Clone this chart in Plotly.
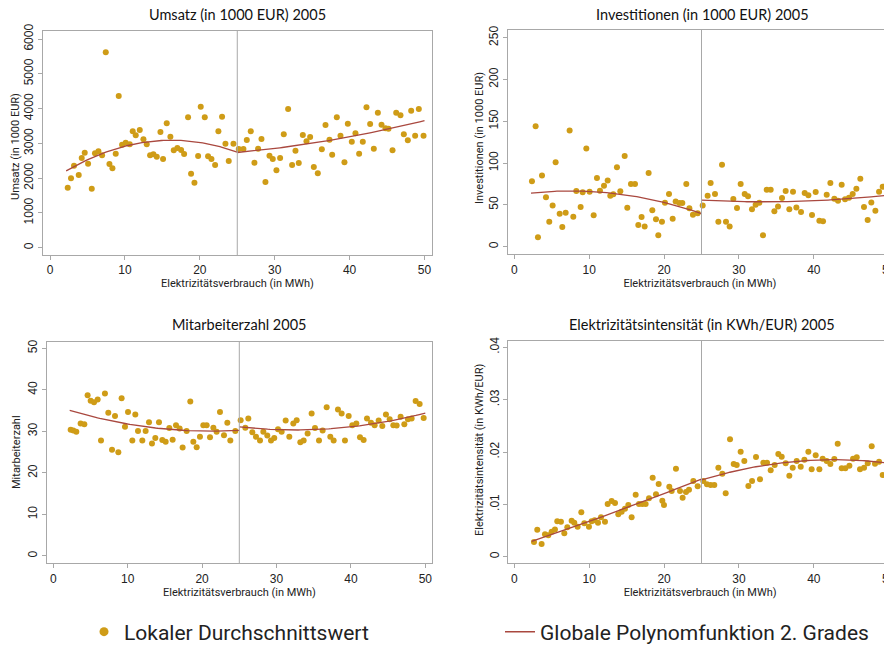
import numpy as np
import plotly.graph_objects as go

# the page adds an 8px body margin; the figure is sized so that it fills the 892x650 window
PAGE_OFF = 8
W, H = 892 - PAGE_OFF, 650 - PAGE_OFF
CUTOFF = 25

# ---------------- data ----------------
umsatz_x = [2.36,2.8,3.2,3.83,4.23,4.63,5.08,5.57,6.0,6.46,6.95,7.44,7.93,8.33,8.77,9.17,9.62,10.1,10.64,11.04,11.44,11.98,12.47,12.91,13.36,13.8,14.25,14.74,15.09,15.58,16.07,16.52,17.0,17.5,17.9,18.43,18.83,19.28,19.77,20.12,20.66,21.1,21.55,22.04,22.48,22.97,23.42,23.86,24.49,
            25.2,25.82,26.27,26.8,27.29,27.78,28.23,28.76,29.3,29.74,30.23,30.72,31.21,31.79,32.32,32.77,33.21,33.75,34.24,34.73,35.22,35.75,36.29,36.78,37.31,37.67,38.29,38.78,39.31,39.76,40.29,40.78,41.27,41.76,42.25,42.74,43.23,43.77,44.26,44.79,45.19,45.73,46.22,46.79,47.24,47.77,48.22,48.75,49.24,49.87]
umsatz_y = [1725,1994,2358,2090,2578,2732,2415,1697,2712,2770,2655,5617,2406,2281,2703,4361,2962,3019,2971,3345,3230,3383,3115,2971,2655,2684,2617,3326,2550,3575,3192,2799,2866,2808,2693,3748,2128,1869,2636,4054,3748,2626,2550,2377,3345,3767,2990,2492,2990,
            2837,2837,3096,3345,2444,2847,3125,1888,2645,2550,2224,2578,3259,3987,2377,2789,2435,3240,3058,3182,2320,2137,2827,3527,3106,2674,3748,3221,2454,3566,3048,3288,2703,3048,4035,3556,2847,3882,3537,3431,3422,2799,3882,3805,3259,3086,3939,3221,3987,3221]
umsatz_fit_left_x = [2.15, 6, 10, 16, 20, 25]
umsatz_fit_left_y = [2230, 2580, 2935, 3105, 3020, 2745]
umsatz_fit_right_x = [25, 30.7, 37.4, 50]
umsatz_fit_right_y = [2743, 2858, 3097, 3652]

invest_x = [2.36,2.85,3.16,3.7,4.23,4.67,5.12,5.52,6.06,6.41,6.86,7.39,7.88,8.28,8.86,9.13,9.62,10.06,10.6,11.04,11.44,11.98,12.47,12.82,13.22,13.71,14.16,14.74,15.09,15.58,16.12,16.56,17.0,17.41,17.94,18.43,18.92,19.23,19.72,20.12,20.66,21.15,21.55,22.04,22.44,22.97,23.38,23.86,24.49,
            25.16,25.82,26.22,26.8,27.25,27.74,28.27,28.76,29.25,29.74,30.23,30.77,31.21,31.74,32.23,32.72,33.21,33.71,34.24,34.73,35.22,35.75,36.24,36.73,37.22,37.67,38.29,38.78,39.27,39.76,40.25,40.74,41.23,41.72,42.21,42.74,43.23,43.72,44.17,44.7,45.19,45.68,46.21,46.7,47.19,47.68,48.22,48.71,49.2,49.78]
invest_y = [78.2,144,11.2,85.3,59,29.9,49.4,100.9,39.5,23.5,40.7,139,35.9,66.6,47.4,65,117.6,65.8,37.5,82.1,67,73,79.3,61,62.6,94.9,66.2,108.5,46.7,75,75,25.9,35.5,24.3,88.1,43.5,32.7,13.6,29.9,52.6,63,33.5,54.2,52.2,52.2,75,45.9,38.3,39.9,
            49.4,61,76.2,63,29.9,98.1,29.9,24.3,57,46.3,75,63,60.2,44.7,50.2,52.6,13.6,68.2,68.2,42.3,48.2,58.2,66.6,44.7,65.8,47,41.5,64.2,61.4,37.9,65.4,31.1,30.3,62.2,76.2,57.4,55,74.2,56.6,58.6,63,69.4,81.3,47.4,31.9,53,43.1,65.8,71.8,61]
invest_fit_left_x = [2.23, 8.3, 13.45, 20.1, 24.8]
invest_fit_left_y = [63.9, 67, 63.9, 51.9, 40.7]
invest_fit_right_x = [25.03, 32.4, 41.3, 50.2]
invest_fit_right_y = [55.9, 53.1, 55.9, 61.8]

mitarb_x = [2.33,2.69,3.09,3.67,4.17,4.61,5.02,5.47,5.96,6.41,6.94,7.39,7.89,8.29,8.74,9.18,9.63,10.04,10.62,11.02,11.38,11.96,12.41,12.86,13.26,13.71,14.2,14.65,15.1,15.59,16.04,16.49,16.98,17.38,17.92,18.41,18.82,19.27,19.71,20.16,20.61,21.06,21.51,21.95,22.4,22.94,23.39,23.79,24.46,
            25.18,25.81,26.21,26.75,27.24,27.78,28.23,28.76,29.26,29.7,30.2,30.69,31.23,31.72,32.26,32.71,33.2,33.65,34.18,34.72,35.17,35.71,36.2,36.74,37.23,37.68,38.26,38.75,39.2,39.7,40.19,40.73,41.22,41.71,42.16,42.7,43.19,43.73,44.22,44.71,45.21,45.7,46.15,46.68,47.18,47.67,48.16,48.7,49.24,49.78]
mitarb_y = [30.4,30.2,29.9,31.9,31.7,38.7,37.4,37,37.7,27.8,39.1,34.5,25.6,33.7,25,38,31.1,34.7,27.8,34.1,30.1,27.8,30.1,32.2,27.1,28.4,32.2,27.9,27.5,30.8,28,31.5,30.7,26.1,30.1,37.2,27.5,26.2,28.7,31.5,31.5,28.6,30.9,29.9,34.7,29.1,32.1,27.8,30.1,
            32.7,30.9,33.1,29.8,28.7,27.8,29.9,29,27.8,28.4,30.5,29.9,32.6,28.7,31.9,32.7,27.4,27.8,29.5,34.3,30.8,27.8,30.2,35.8,28.7,27.8,35.3,34.3,27.8,33.7,31.5,31.9,28.6,27.9,33.1,32.1,31.5,32.6,31.3,34.1,32.9,31.5,31.4,33.5,31.7,32.9,33.1,37.3,36.6,33.2]
mitarb_fit_left_x = [2.2, 9.8, 17.9, 24.9]
mitarb_fit_left_y = [35.0, 31.95, 30.1, 30.3]
mitarb_fit_right_x = [25.1, 32.7, 41.7, 50]
mitarb_fit_right_y = [31.1, 30.3, 31.5, 34.4]

intens_x = [2.63,3.07,3.65,4.10,4.54,4.99,5.43,5.74,6.23,6.68,7.08,7.66,8.01,8.46,8.95,9.35,9.97,10.33,10.73,11.18,11.58,12.11,12.47,13.0,13.45,13.89,14.34,14.78,15.23,15.67,16.21,16.65,17.10,17.54,17.99,18.48,18.92,19.28,19.77,19.99,20.7,21.02,21.59,22.13,22.48,22.93,23.33,23.91,24.49,
            25.24,25.73,26.22,26.71,27.25,27.78,28.23,28.81,29.30,29.70,30.23,30.72,31.26,31.75,32.28,32.81,33.26,33.75,34.24,34.77,35.26,35.71,36.24,36.73,37.18,37.71,38.25,38.74,39.27,39.71,40.25,40.74,41.18,41.72,42.21,42.74,43.19,43.72,44.21,44.75,45.24,45.73,46.17,46.71,47.20,47.73,48.17,48.71,49.20,49.82]
intens_y = [0.00280,0.00516,0.00242,0.00427,0.00408,0.00478,0.00522,0.00675,0.00669,0.00446,0.00561,0.00688,0.00650,0.00573,0.00847,0.00637,0.00573,0.00675,0.00694,0.00650,0.00752,0.00669,0.01006,0.01064,0.01025,0.00809,0.00860,0.00917,0.00987,0.00752,0.01185,0.01006,0.01006,0.01006,0.01115,0.01510,0.01191,0.01389,0.01070,0.00987,0.01338,0.01255,0.01682,0.01255,0.01127,0.01236,0.01280,0.01446,0.01344,
            0.01446,0.01382,0.01369,0.01369,0.01701,0.01586,0.01210,0.02242,0.01771,0.01752,0.02006,0.01828,0.01350,0.01446,0.01904,0.01478,0.01796,0.01796,0.01650,0.01752,0.01962,0.01911,0.01783,0.01548,0.01701,0.01828,0.01720,0.01854,0.02006,0.01669,0.01936,0.01669,0.01873,0.01828,0.01771,0.01866,0.02159,0.01688,0.01688,0.01739,0.01873,0.01898,0.01669,0.01701,0.01783,0.02108,0.01777,0.01815,0.01561,0.02064]
intens_fit_left_x = [2.32, 12.1, 18.8, 24.93]
intens_fit_left_y = [0.00299, 0.00752, 0.01178, 0.01465]
intens_fit_right_x = [25.1, 34.4, 43.3, 49.96]
intens_fit_right_y = [0.01465, 0.01783, 0.01834, 0.01796]

titles = ["Umsatz (in 1000 EUR) 2005", "Investitionen (in 1000 EUR) 2005",
          "Mitarbeiterzahl 2005", "Elektrizitätsintensität (in KWh/EUR) 2005"]
ytitles = ["Umsatz (in 1000 EUR)", "Investitionen (in 1000 EUR)",
           "Mitarbeiterzahl", "Elektrizitätsintensität (in KWh/EUR)"]
xtitle = "Elektrizitätsverbrauch (in MWh)"
x_ticks = [0, 10, 20, 30, 40, 50]
yticks_umsatz = [0, 1000, 2000, 3000, 4000, 5000, 6000]
yticks_invest = [0, 50, 100, 150, 200, 250]
yticks_mitarb = [0, 10, 20, 30, 40, 50]
yticks_intens = [0, 0.01, 0.02, 0.03, 0.04]
yticklabels_intens = ["0", ".01", ".02", ".03", ".04"]
legend_names = ["Lokaler Durchschnittswert", "Globale Polynomfunktion 2. Grades"]

# ---------------- styling ----------------
DOT = "#CF9C17"
CURVE = "#A9483F"
FRAME = "#A8A8A8"
NARROW = "Liberation Sans Narrow, Roboto, sans-serif"
TICKF = "Liberation Sans, Arial, sans-serif"
TITLEF = "Lato, Open Sans, sans-serif"

def px_x(v):  # screen pixel -> paper fraction
    return (v - PAGE_OFF) / W

def px_y(v):
    return 1 - (v - PAGE_OFF) / H

# panel frames in screen pixels: (left, right, top, bottom), x range, y range
panels = [
    dict(px=(43, 432, 31, 255), xr=(-0.94, 51.0), yr=(-210, 6230)),
    dict(px=(507.7, 892, 30, 254.3), xr=(-0.88, 50.44), yr=(-9.1, 259.2)),
    dict(px=(46.7, 432.3, 341.7, 563.3), xr=(-0.89, 50.94), yr=(-1.76, 51.6)),
    dict(px=(508.3, 892, 340.7, 563.3), xr=(-0.80, 50.44), yr=(-0.00126, 0.04126)),
]
title_pos = [(237, 15), (702, 15), (239, 324), (702, 324)]
ytitle_pos = [(16, 147), (479, 138), (16, 452), (479, 450)]

series = [
    (umsatz_x, umsatz_y, umsatz_fit_left_x, umsatz_fit_left_y, umsatz_fit_right_x, umsatz_fit_right_y, yticks_umsatz, None),
    (invest_x, invest_y, invest_fit_left_x, invest_fit_left_y, invest_fit_right_x, invest_fit_right_y, yticks_invest, None),
    (mitarb_x, mitarb_y, mitarb_fit_left_x, mitarb_fit_left_y, mitarb_fit_right_x, mitarb_fit_right_y, yticks_mitarb, None),
    (intens_x, intens_y, intens_fit_left_x, intens_fit_left_y, intens_fit_right_x, intens_fit_right_y, yticks_intens, yticklabels_intens),
]

fig = go.Figure()
layout = dict(width=W, height=H, margin=dict(l=0, r=0, t=0, b=0, autoexpand=False),
              paper_bgcolor="white", plot_bgcolor="white", showlegend=True)
annotations = []
shapes = []

def quad_curve(xs, ys, x0, x1):
    c = np.polyfit(xs, ys, 2)
    g = np.linspace(x0, x1, 80)
    return list(g), list(np.polyval(c, g))

for i, (p, s) in enumerate(zip(panels, series)):
    n = "" if i == 0 else str(i + 1)
    xa, ya = "x" + n, "y" + n
    l, r, t, b = p["px"]
    xs, ys, flx, fly, frx, fry, ytv, ytt = s
    fig.add_trace(go.Scatter(x=xs, y=ys, mode="markers", xaxis=xa, yaxis=ya,
                             marker=dict(color=DOT, size=6), showlegend=False, hoverinfo="skip"))
    gx1, gy1 = quad_curve(flx, fly, flx[0], CUTOFF)
    gx2, gy2 = quad_curve(frx, fry, CUTOFF, frx[-1])
    fig.add_trace(go.Scatter(x=gx1 + [None] + gx2, y=gy1 + [None] + gy2, mode="lines",
                             xaxis=xa, yaxis=ya, line=dict(color=CURVE, width=1.3),
                             showlegend=False, hoverinfo="skip"))
    axcommon = dict(showgrid=False, zeroline=False, showline=True, linecolor=FRAME, linewidth=1,
                    mirror=True, ticks="outside", ticklen=4, tickcolor=FRAME,
                    ticklabeloverflow="allow",
                    tickfont=dict(family=TICKF, size=12, color="#222"))
    layout["xaxis" + n] = dict(axcommon, domain=[px_x(l), min(1.0, px_x(r))], range=list(p["xr"]),
                               tickvals=x_ticks, anchor=ya,
                               title=dict(text=xtitle, font=dict(family=NARROW, size=11, color="#222"), standoff=0))
    yd = dict(axcommon, domain=[px_y(b), px_y(t)], range=list(p["yr"]),
              tickvals=ytv, tickangle=-90, anchor=xa)
    if ytt is not None:
        yd["ticktext"] = ytt
    layout["yaxis" + n] = yd
    annotations.append(dict(text=titles[i], x=px_x(title_pos[i][0]), y=px_y(title_pos[i][1]),
                            xref="paper", yref="paper", showarrow=False, xanchor="center", yanchor="middle",
                            font=dict(family=TITLEF, size=14.5, color="#111")))
    annotations.append(dict(text=ytitles[i], x=px_x(ytitle_pos[i][0]), y=px_y(ytitle_pos[i][1]),
                            xref="paper", yref="paper", showarrow=False, textangle=-90,
                            xanchor="center", yanchor="middle",
                            font=dict(family=NARROW, size=11, color="#222")))
    shapes.append(dict(type="line", xref=xa, yref=ya + " domain", x0=CUTOFF, x1=CUTOFF, y0=0, y1=1,
                       line=dict(color=FRAME, width=1)))

# legend entries (two independent legends)
fig.add_trace(go.Scatter(x=[None], y=[None], mode="markers", name=legend_names[0], legend="legend",
                         marker=dict(color=DOT, size=9), showlegend=True))
fig.add_trace(go.Scatter(x=[None], y=[None], mode="lines", name=legend_names[1], legend="legend2",
                         line=dict(color=CURVE, width=1.5), showlegend=True))

layout["annotations"] = annotations
layout["shapes"] = shapes
legfont = dict(family=NARROW, size=21, color="#222")
layout["legend"] = dict(orientation="h", x=px_x(84), y=px_y(632), xanchor="left", yanchor="middle",
                        font=legfont, bgcolor="rgba(0,0,0,0)")
layout["legend2"] = dict(orientation="h", x=px_x(500), y=px_y(632), xanchor="left", yanchor="middle",
                         font=legfont, bgcolor="rgba(0,0,0,0)")
fig.update_layout(**layout)
fig.write_html("out.html")
